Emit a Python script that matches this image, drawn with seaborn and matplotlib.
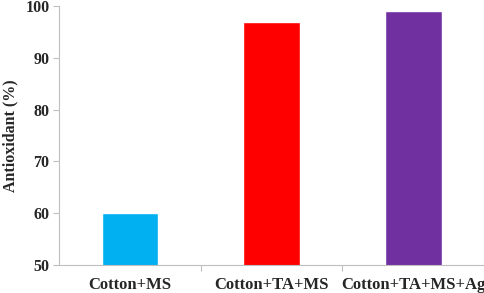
import matplotlib
matplotlib.use("Agg")
import matplotlib.pyplot as plt
import seaborn as sns
import pandas as pd
from matplotlib.ticker import FixedLocator

categories = ["Cotton+MS", "Cotton+TA+MS", "Cotton+TA+MS+Ag"]
values = [60, 97, 99]
colors = ["#00B0F0", "#FF0000", "#7030A0"]
yticks = [50, 60, 70, 80, 90, 100]

sns.set_theme(style="white")
plt.rcParams['font.family'] = ['Liberation Serif', 'DejaVu Serif']

df = pd.DataFrame({"cat": categories, "val": values})
fig = plt.figure(figsize=(4.84, 2.93), dpi=100)
ax = fig.add_axes([0.122, 0.0956, 0.878, 0.884])
sns.barplot(data=df, x="cat", y="val", hue="cat", palette=colors, width=0.4,
            legend=False, ax=ax, saturation=1)
ax.set_ylim(50, 100)
ax.set_xlim(-0.5, 2.5)
ax.set_yticks(yticks)
ax.set_yticklabels([str(t) for t in yticks], fontsize=11.5, fontweight="bold")
ax.set_xticks(range(len(categories)))
ax.set_xticklabels(categories, fontsize=12, fontweight="bold")
ax.tick_params(axis="x", which="major", length=0, pad=8.5)
ax.xaxis.set_minor_locator(FixedLocator([0.5, 1.5, 2.5]))
ax.tick_params(axis="x", which="minor", length=4, color="#BFBFBF", width=0.8, direction="out", bottom=True)
ax.tick_params(axis="y", length=4, color="#BFBFBF", width=0.8, direction="out", left=True, pad=3)
ax.set_xlabel("")
ax.set_ylabel("Antioxidant (%)", fontsize=11.5, fontweight="bold", labelpad=5)
for s in ["top", "right"]:
    ax.spines[s].set_visible(False)
for s in ["left", "bottom"]:
    ax.spines[s].set_color("#BFBFBF")
    ax.spines[s].set_linewidth(0.8)
fig.savefig("out.png", dpi=100)
